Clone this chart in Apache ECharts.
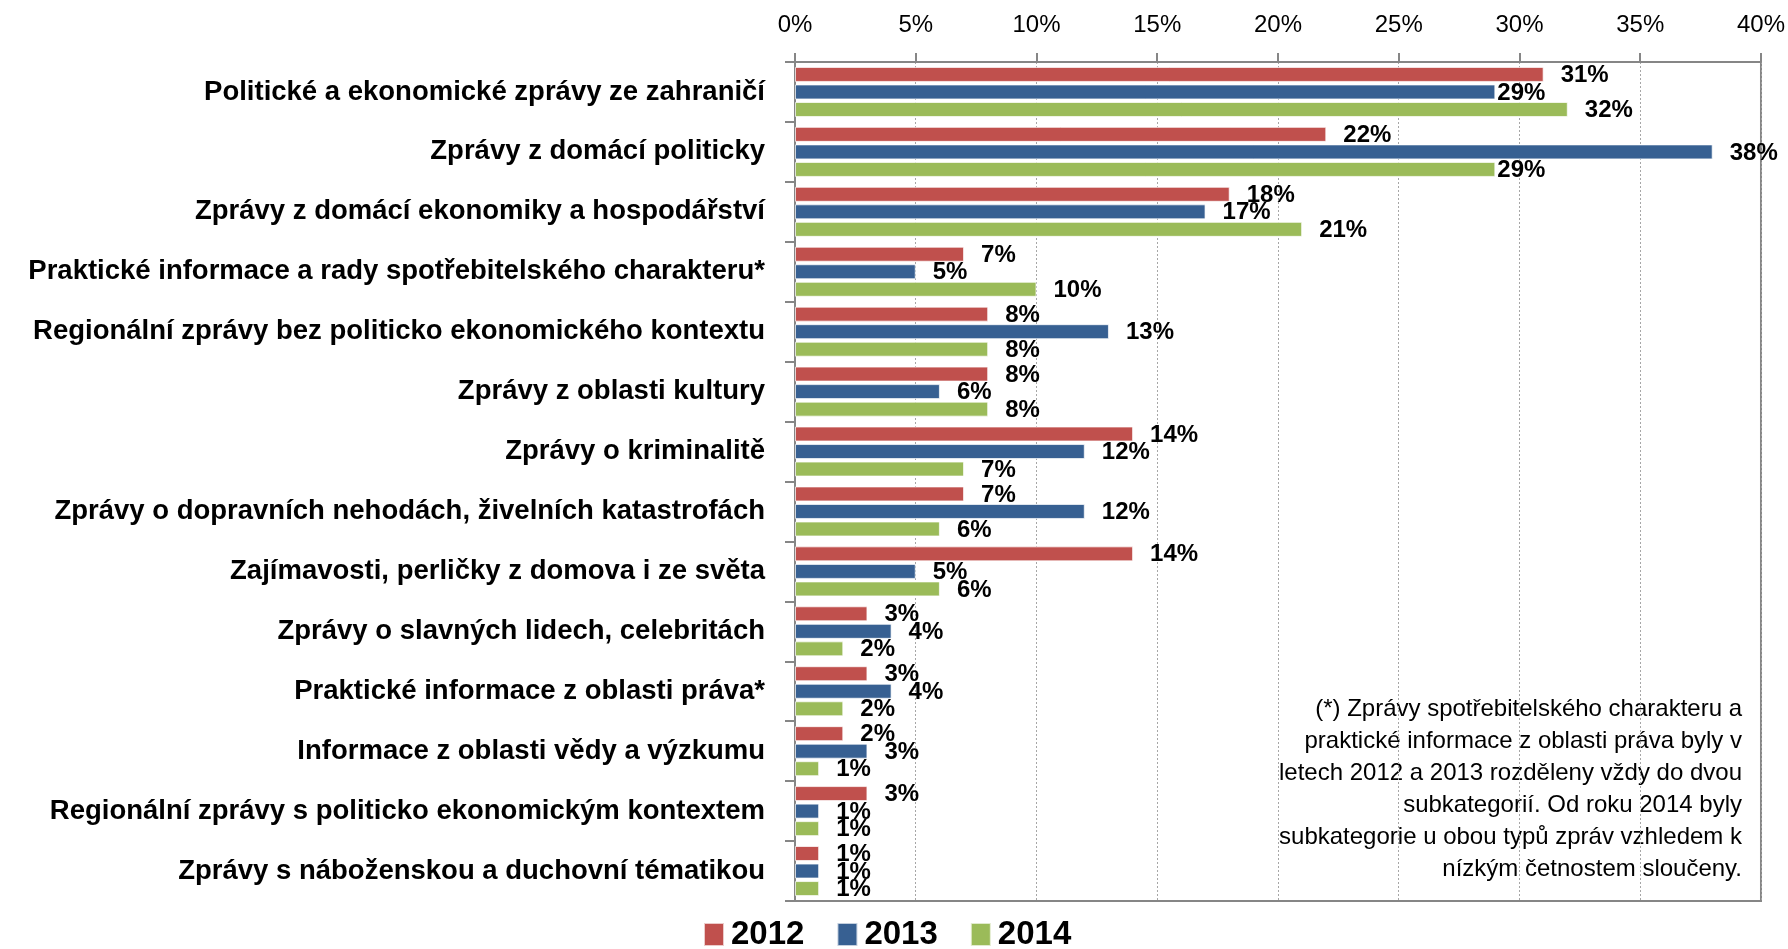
<!DOCTYPE html>
<html>
<head>
<meta charset="utf-8">
<script src="https://cdn.jsdelivr.net/npm/echarts@6/dist/echarts.min.js"></script>
<style>
  html, body { margin: 0; padding: 0; background: #fff; }
  #main { width: 1788px; height: 949px; }
</style>
</head>
<body>
<div id="main"></div>
<script>
// kategorie (shora dolu)
const categories = [
  'Politické a ekonomické zprávy ze zahraničí',
  'Zprávy z domácí politicky',
  'Zprávy z domácí ekonomiky a hospodářství',
  'Praktické informace a rady spotřebitelského charakteru*',
  'Regionální zprávy bez politicko ekonomického kontextu',
  'Zprávy z oblasti kultury',
  'Zprávy o kriminalitě',
  'Zprávy o dopravních nehodách, živelních katastrofách',
  'Zajímavosti, perličky z domova i ze světa',
  'Zprávy o slavných lidech, celebritách',
  'Praktické informace z oblasti práva*',
  'Informace z oblasti vědy a výzkumu',
  'Regionální zprávy s politicko ekonomickým kontextem',
  'Zprávy s náboženskou a duchovní tématikou'
]
const years = ['2012', '2013', '2014']
const values2012 = [31, 22, 18, 7, 8, 8, 14, 7, 14, 3, 3, 2, 3, 1]
const values2013 = [29, 38, 17, 5, 13, 6, 12, 12, 5, 4, 4, 3, 1, 1]
const values2014 = [32, 29, 21, 10, 8, 8, 7, 6, 6, 2, 2, 1, 1, 1]
const xTicks = [0, 5, 10, 15, 20, 25, 30, 35, 40]

const noteLines = [
  '(*) Zprávy spotřebitelského charakteru a',
  'praktické informace z oblasti práva byly v',
  'letech 2012 a 2013 rozděleny vždy do dvou',
  'subkategorií. Od roku 2014 byly',
  'subkategorie u obou typů zpráv vzhledem k',
  'nízkým četnostem sloučeny.'
]

const colors = ['#C0504D', '#376092', '#9BBB59']
const FONT = '"Liberation Sans", Arial, sans-serif'
// popisky, ktere v originale lezi tesne u konce sloupce
const tightLabels = { '1-0': 2, '2-1': 2 }

const seriesValues = [values2012, values2013, values2014]

let myChart = echarts.init(document.getElementById('main'))

let option = {
  animation: false,
  textStyle: { fontFamily: FONT },
  grid: {
    left: 795, right: 26, top: 62, bottom: 48,
    show: true, borderColor: '#868686', borderWidth: 2
  },
  legend: {
    left: 698, top: 913,
    itemWidth: 20, itemHeight: 23, itemGap: 32,
    icon: 'rect',
    textStyle: { fontFamily: FONT, fontSize: 33, fontWeight: 'bold', color: '#000', padding: [0, 0, 0, 2] },
    data: years
  },
  xAxis: {
    type: 'value',
    position: 'top',
    min: xTicks[0], max: xTicks[xTicks.length - 1], interval: 5,
    axisLine: { show: true, lineStyle: { color: '#868686', width: 2 } },
    axisTick: { show: true, length: 9, lineStyle: { color: '#868686', width: 2 } },
    axisLabel: { formatter: '{value}%', fontSize: 24, color: '#000', margin: 25 },
    splitLine: { show: true, lineStyle: { color: '#A6A6A6', type: [2, 2], width: 1 } }
  },
  yAxis: {
    type: 'category',
    inverse: true,
    data: categories,
    axisLine: { show: true, lineStyle: { color: '#868686', width: 2 } },
    axisTick: { show: true, length: 10, lineStyle: { color: '#868686', width: 2 } },
    axisLabel: { fontSize: 27.5, fontWeight: 'bold', color: '#000', margin: 30 }
  },
  graphic: [{
    type: 'text',
    x: 1742, y: 693,
    style: {
      text: noteLines.join('\n'),
      align: 'right', verticalAlign: 'top',
      font: '24px ' + FONT, lineHeight: 32, fill: '#000'
    }
  }],
  series: years.map((y, si) => ({
    name: y,
    type: 'bar',
    barCategoryGap: '16.5%',
    barGap: '17%',
    itemStyle: { color: colors[si], borderColor: 'rgba(255,255,255,0.7)', borderWidth: 1 },
    label: {
      show: true, position: 'right', distance: 17,
      formatter: p => p.value + '%',
      fontSize: 24, fontWeight: 'bold', color: '#000', offset: [0, 1]
    },
    data: seriesValues[si].map((v, i) => {
      const d = tightLabels[si + '-' + i]
      return d !== undefined ? { value: v, label: { distance: d } } : v
    })
  }))
}

myChart.setOption(option)
</script>
</body>
</html>
